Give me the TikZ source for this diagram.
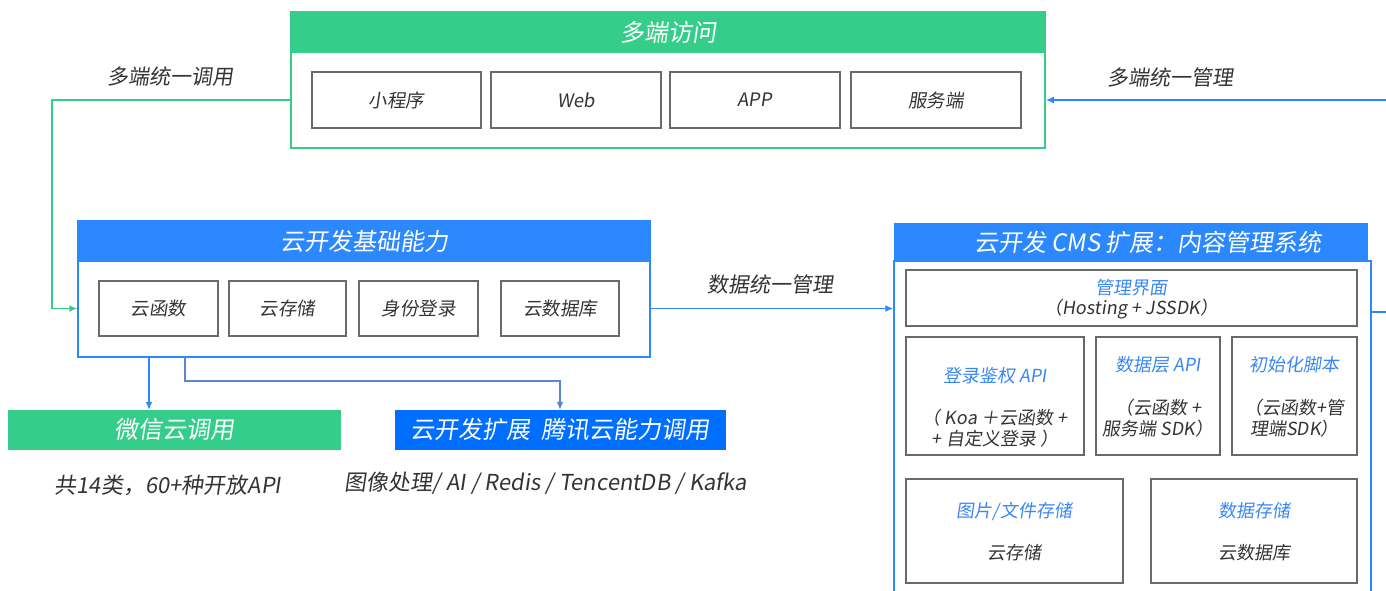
\documentclass[tikz,border=0pt]{standalone}
\usepackage{fontspec}
\setmainfont{Noto Sans CJK SC}[FakeSlant=0.15]
\usepackage{tikz}
\usetikzlibrary{arrows.meta}
\usetikzlibrary{positioning}
\definecolor{mgreen}{HTML}{34CE8A}
\definecolor{mblue}{HTML}{2B88FF}
\definecolor{mdeep}{HTML}{006EFF}
\definecolor{msteel}{HTML}{5B86D6}
\definecolor{mgray}{HTML}{6A6A6A}
\definecolor{mtext}{HTML}{333333}
\definecolor{mtitle}{HTML}{3A86F5}
\newcommand{\fsHead}{\fontsize{24}{27}\selectfont}
\newcommand{\fsItem}{\fontsize{18.5}{21}\selectfont}
\newcommand{\fsLabel}{\fontsize{21}{24}\selectfont}
\newcommand{\fsCap}{\fontsize{22}{25}\selectfont}
\newcommand{\fsSmall}{\fontsize{18}{21}\selectfont}
\tikzset{
  head/.style    = {fill=#1, draw=#1, text=white, inner sep=0, font=\fsHead},
  panel/.style   = {draw=#1, line width=1.5, inner sep=0},
  item/.style    = {draw=mgray, line width=1.5, inner sep=0, text=mtext, font=\fsItem},
  lbl/.style     = {text=mtext, font=\fsLabel, inner sep=0},
  caption/.style = {text=mtext, font=\fsCap, inner sep=0},
  ttl/.style     = {text=mtitle, font=\fsSmall, inner sep=0},
  txt/.style     = {text=mtext, font=\fsSmall, inner sep=0, align=center},
  gline/.style   = {draw=mgreen, line width=1.2},
  bline/.style   = {draw=mblue, line width=1.8},
  tip/.style     = {-{Latex[length=8pt,width=7pt]}}
}

\begin{document}
\begin{tikzpicture}[x=1pt, y=-1pt]
  \useasboundingbox (0,0) rectangle (1386,591);

  % multi-end access
  \node [panel=mgreen, minimum width=754, minimum height=136] (access) at (668,80) {};
  \node [head=mgreen, minimum width=754, minimum height=40] (accessHead) at (668,32) {多端访问};
  \node [item, minimum width=169, minimum height=56] (mp) at (396.5,100) {小程序};
  \node [item, minimum width=170, minimum height=56] (web) at (576,100) {Web};
  \node [item, minimum width=170, minimum height=56] (app) at (755,100) {APP};
  \node [item, minimum width=170, minimum height=56] (srv) at (936,100) {服务端};

  % base abilities
  \node [panel=mblue, minimum width=572, minimum height=136] (base) at (364,289) {};
  \node [head=mblue, minimum width=572, minimum height=40] (baseHead) at (364,241) {云开发基础能力};
  \node [item, minimum width=119, minimum height=55] (fn) at (158.5,308.5) {云函数};
  \node [item, minimum width=117, minimum height=55] (store) at (287.5,308.5) {云存储};
  \node [item, minimum width=119, minimum height=55] (login) at (418.5,308.5) {身份登录};
  \node [item, minimum width=118, minimum height=55] (db) at (560,308.5) {云数据库};

  % calls below
  \node [head=mgreen, minimum width=332, minimum height=39] (wx) at (174,429.5) {微信云调用};
  \node [head=mdeep, minimum width=330, minimum height=39] (ext) at (560,429.5) {云开发扩展\ \ 腾讯云能力调用};
  \node [caption] (wxApi) at (168,485) {共14类，60+种开放API};
  \node [caption] (extApi) at (546,483) {图像处理/ AI / Redis / TencentDB / Kafka};

  % cms
  \node [panel=mblue, minimum width=477, minimum height=339] (cms) at (1132.5,430.5) {};
  \node [head=mblue, minimum width=473, minimum height=38] (cmsHead) at (1130.5,242) {};
  \node [text=white, font=\fsHead, inner sep=0] (cmsTitle) at (1148,242) {云开发 CMS 扩展：内容管理系统};
  \node [item, minimum width=451, minimum height=56] (ui) at (1131.5,298) {};
  \node [item, minimum width=178, minimum height=118] (auth) at (995,396) {};
  \node [item, minimum width=124, minimum height=118] (dal) at (1158,396) {};
  \node [item, minimum width=125, minimum height=118] (init) at (1294.5,396) {};
  \node [item, minimum width=217, minimum height=104] (img) at (1014.5,531) {};
  \node [item, minimum width=206, minimum height=104] (dstore) at (1254,531) {};
  \node [ttl] at (1131.5,288) {管理界面};
  \node [txt] at (1131.5,309) {（Hosting + JSSDK）};
  \node [ttl] at (995,376) {登录鉴权 API};
  \node [txt] at (995,418) {（ Koa ＋云函数 +};
  \node [txt] at (995,439) {+ 自定义登录 ）};
  \node [ttl] at (1158,365) {数据层 API};
  \node [txt] at (1158,408) {（云函数 +};
  \node [txt] at (1158,429) {服务端 SDK）};
  \node [ttl] at (1294.5,365) {初始化脚本};
  \node [txt] at (1294.5,408) {（云函数+管};
  \node [txt] at (1294.5,429) {理端SDK）};
  \node [ttl] at (1014.5,511) {图片/文件存储};
  \node [txt] at (1014.5,553) {云存储};
  \node [ttl] at (1254,511) {数据存储};
  \node [txt] at (1254,553) {云数据库};

  % connectors
  \coordinate (bendL) at (52,0);
  \coordinate (mgmtIn) at (1386,100);
  \coordinate (cmsOut) at (1386,312);
  \coordinate (tapA) at (149,357);
  \coordinate (tapB) at (185,357);
  \draw [gline, tip] (mp -| access.west) -- (mp -| bendL) |- (fn -| base.west);
  \draw [bline, tip] (mgmtIn) -- (srv -| access.east);
  \draw [bline, tip] (db -| base.east) -- (db -| cms.west);
  \draw [bline] (cmsOut -| cms.east) -- (cmsOut);
  \draw [bline, line width=1.2, tip] (tapA) -- (tapA |- wx.north);
  \draw [draw=msteel, line width=1.2, tip] (tapB) -- ++(0,24) -| (ext.north);
  \node [lbl] (callAll) at (170,77) {多端统一调用};
  \node [lbl] (mgmtAll) at (1170,77) {多端统一管理};
  \node [lbl] (dataAll) at (770,285) {数据统一管理};
\end{tikzpicture}
\end{document}
